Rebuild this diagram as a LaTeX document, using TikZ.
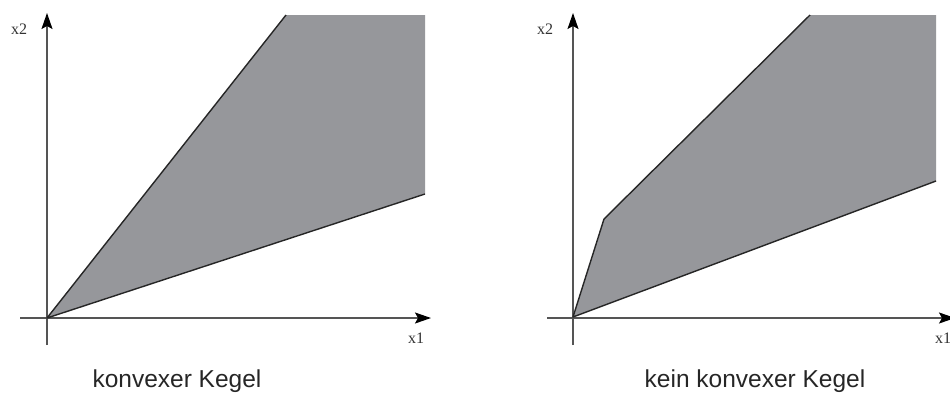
\documentclass[tikz,border=0pt]{standalone}
\usepackage{fontspec}
\setmainfont{Liberation Serif}
\setsansfont{Liberation Sans}
\usetikzlibrary{arrows.meta}
\definecolor{conegray}{RGB}{150,151,155}
\definecolor{axisgray}{RGB}{85,85,85}
\tikzset{
  axisline/.style={draw=axisgray, line width=1.4pt, -{Stealth[length=16pt,width=11pt,inset=3pt,color=black]}},
  conefill/.style={fill=conegray, draw=none},
  coneedge/.style={draw=black!85, line width=1.4pt, line join=round},
  axislabel/.style={font=\fontsize{16}{16}\selectfont\rmfamily, text=black!80, inner sep=0pt},
  caption/.style={font=\fontsize{24.5}{24.5}\selectfont\sffamily, text=black!85, inner sep=0pt}
}
\begin{document}
\begin{tikzpicture}[x=1pt,y=-1pt]
\useasboundingbox (0,0) rectangle (950,394);
% ---------- left: konvexer Kegel
\coordinate (LO) at (47,318);
\coordinate (Ltop) at (286,15);
\coordinate (Ltr) at (425,15);
\coordinate (Lbr) at (425,194);
\coordinate (LyB) at (47,345);
\coordinate (LyT) at (47,13);
\coordinate (LxL) at (20,318);
\coordinate (LxR) at (431,318);
\fill[conefill] (LO) -- (Ltop) -- (Ltr) -- (Lbr) -- cycle;
\draw[axisline] (LyB) -- (LyT);
\draw[axisline] (LxL) -- (LxR);
\draw[coneedge] (Ltop) -- (LO) -- (Lbr);
\node[axislabel] (Lx2) at (19,29) {x2};
\node[axislabel] (Lx1) at (416,338) {x1};
\node[caption] (Lcap) at (177,381) {konvexer Kegel};
% ---------- right: kein konvexer Kegel
\coordinate (RO) at (573,317);
\coordinate (Rk) at (604,219);
\coordinate (Rtop) at (810,15);
\coordinate (Rtr) at (936,15);
\coordinate (Rbr) at (936,181);
\coordinate (RyB) at (573,345);
\coordinate (RyT) at (573,13);
\coordinate (RxL) at (547,318);
\coordinate (RxR) at (955,318);
\fill[conefill] (RO) -- (Rk) -- (Rtop) -- (Rtr) -- (Rbr) -- cycle;
\draw[axisline] (RyB) -- (RyT);
\draw[axisline] (RxL) -- (RxR);
\draw[coneedge] (Rtop) -- (Rk) -- (RO) -- (Rbr);
\node[axislabel] (Rx2) at (545,29) {x2};
\node[axislabel, anchor=west] (Rx1) at (935,338) {x1};
\node[caption] (Rcap) at (755,381) {kein konvexer Kegel};
\end{tikzpicture}
\end{document}
